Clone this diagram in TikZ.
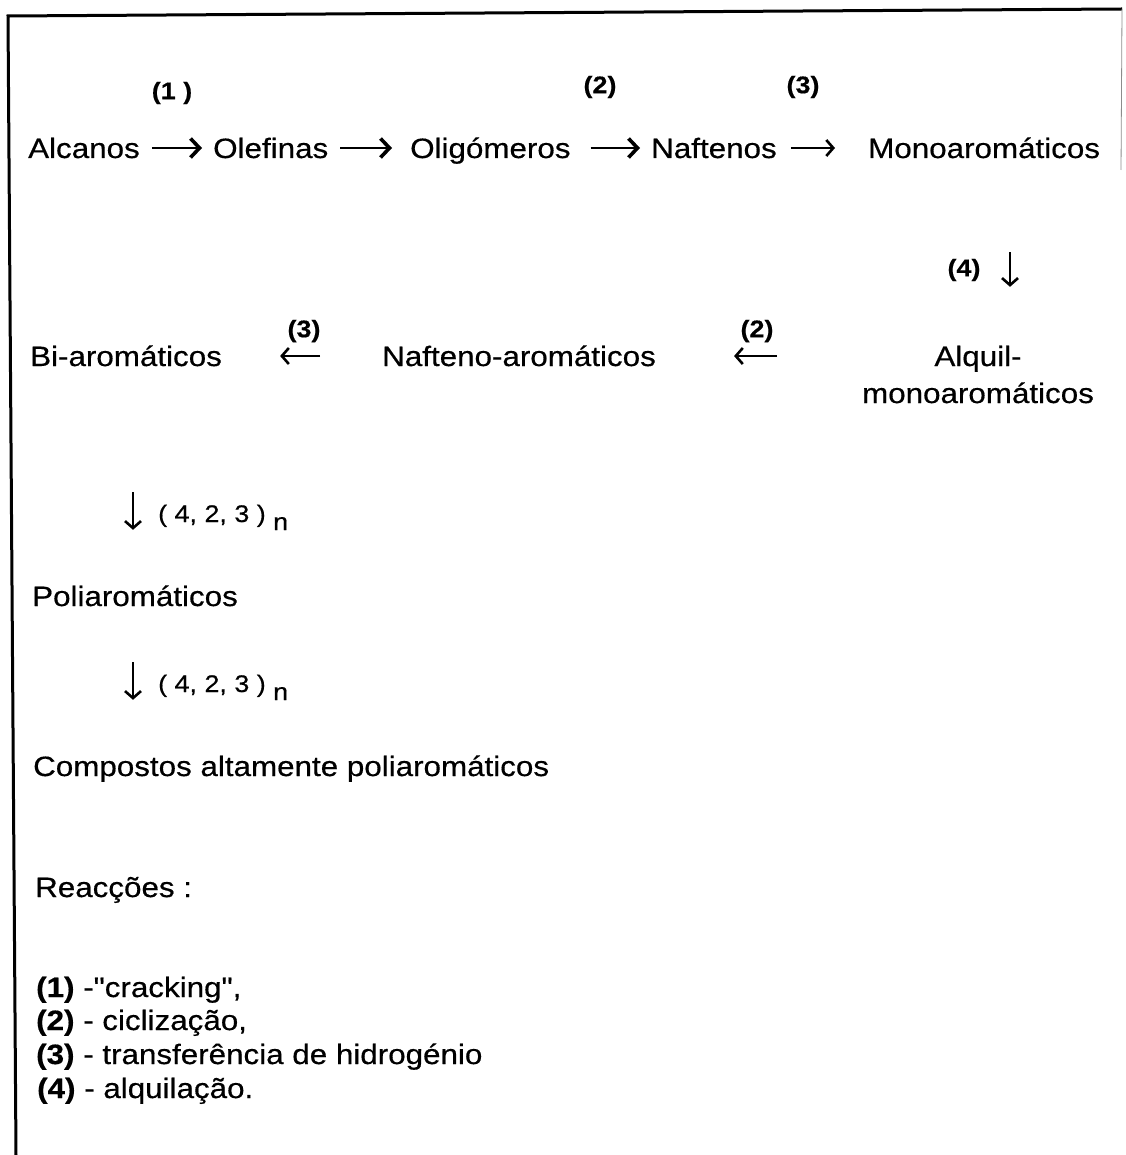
\documentclass[tikz,border=0pt]{standalone}
\usepackage{fontspec}
\newfontfamily\arial[FakeStretch=1.12, FakeBold=0.5]{Liberation Sans}
\usetikzlibrary{arrows.meta}
\begin{document}
\begin{tikzpicture}[x=1pt,y=-1pt,
  txt/.style={font=\arial\fontsize{28}{34}\selectfont, inner sep=0pt, anchor=base west, text height=20pt, text depth=0pt},
  ctxt/.style={txt, anchor=base},
  lbl/.style={font=\arial\fontsize{24}{28}\selectfont\bfseries, inner sep=0pt},
  idx/.style={font=\arial\fontsize{24}{28}\selectfont, inner sep=0pt, anchor=base west},
  bigarr/.style={line width=2.4pt, -{Straight Barb[length=9pt,width=19pt,line width=3.6pt]}},
  smallarr/.style={line width=2pt, -{Straight Barb[length=7pt,width=16pt,line width=2.6pt]}},
  frame/.style={line width=3pt, black}
]
\useasboundingbox (0,0) rectangle (1125,1155);
% frame
\coordinate (tl) at (8,16);
\coordinate (tr) at (1122,9);
\coordinate (bl) at (16,1155);
\coordinate (rb) at (1121,170);
\draw[frame] (bl) -- (tl) -- (tr);
\draw[line width=0.8pt, black!45] (tr) -- (rb);

% row 1
\node[txt] (alc) at (28,158) {Alcanos};
\node[txt] (ole) at (213,158) {Olefinas};
\node[txt] (oli) at (410,158) {Oligómeros};
\node[txt] (naf) at (651,158) {Naftenos};
\node[txt] (mono) at (868,158) {Monoaromáticos};
\draw[bigarr, shorten <=12pt, shorten >=11pt] (alc.east) -- (ole.west);
\draw[bigarr, shorten <=12pt, shorten >=18pt] (ole.east) -- (oli.west);
\draw[bigarr, shorten <=20pt, shorten >=11pt] (oli.east) -- (naf.west);
\draw[smallarr, shorten <=14pt, shorten >=33pt] (naf.east) -- (mono.west);
\node[lbl] (l1) at (172,93) {(1 )};
\node[lbl] (l2) at (600,87) {(2)};
\node[lbl] (l3) at (803,87) {(3)};

% row 2
\node[txt] (bi) at (30,366) {Bi-aromáticos};
\node[txt] (nar) at (382,366) {Nafteno-aromáticos};
\node[ctxt] (alq1) at (978,366) {Alquil-};
\node[ctxt] (alq2) at (978,403) {monoaromáticos};
\draw[smallarr, shorten <=157pt, shorten >=78pt] (alq1.west) -- (nar.east);
\draw[smallarr, shorten <=62pt, shorten >=58pt] (nar.west) -- (bi.east);
\node[lbl] (l4) at (964,270) {(4)};
\node[lbl] (l2b) at (757,331) {(2)};
\node[lbl] (l3b) at (304,331) {(3)};
\coordinate (ax4) at (1010,0);
\draw[smallarr, shorten <=94pt, shorten >=59pt] (mono.south -| ax4) -- (alq1.north -| ax4);

% row 3
\coordinate (ax) at (133,0);
\node[txt] (poli) at (32,606) {Poliaromáticos};
\draw[smallarr, shorten <=126pt, shorten >=56pt] (bi.south -| ax) -- (poli.north -| ax);
\node[idx] (i1) at (158,522) {( 4, 2, 3 )};
\node[idx] (n1) at (i1.base east) [xshift=7pt, yshift=-8pt] {n};

% row 4
\node[txt] (comp) at (33,776) {Compostos altamente poliaromáticos};
\draw[smallarr, shorten <=56pt, shorten >=56pt] (poli.south -| ax) -- (comp.north -| ax);
\node[idx] (i2) at (158,692) {( 4, 2, 3 )};
\node[idx] (n2) at (i2.base east) [xshift=7pt, yshift=-8pt] {n};

% legend
\node[txt] (rea) at (35,897) {Reacções :};
\node[txt] (r1) at (36,997) {\textbf{(1)} -"cracking",};
\node[txt] (r2) at (36,1030) {\textbf{(2)} - ciclização,};
\node[txt] (r3) at (36,1064) {\textbf{(3)} - transferência de hidrogénio};
\node[txt] (r4) at (37,1098) {\textbf{(4)} - alquilação.};
\end{tikzpicture}
\end{document}
